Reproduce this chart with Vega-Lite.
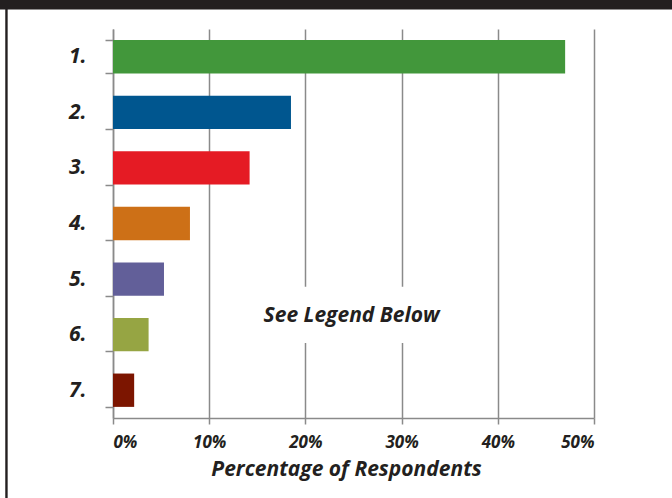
{
  "$schema": "https://vega.github.io/schema/vega-lite/v6.json",
  "width": 481,
  "height": 389,
  "autosize": {"type": "none"},
  "padding": {"left": 113, "top": 29, "right": 78, "bottom": 80},
  "background": "white",
  "config": {
    "view": {"stroke": null},
    "font": "Open Sans"
  },
  "data": {
    "values": [
      {"rank": "1.", "pct": 47.0},
      {"rank": "2.", "pct": 18.5},
      {"rank": "3.", "pct": 14.2},
      {"rank": "4.", "pct": 8.0},
      {"rank": "5.", "pct": 5.3},
      {"rank": "6.", "pct": 3.7},
      {"rank": "7.", "pct": 2.2}
    ]
  },
  "layer": [
    {
      "mark": {"type": "bar"},
      "encoding": {
        "y": {
          "field": "rank",
          "type": "nominal",
          "sort": null,
          "scale": {"paddingInner": 0.4, "paddingOuter": 0.2},
          "axis": {
            "title": null,
            "tickBand": "extent",
            "tickSize": 8,
            "tickWidth": 1.5,
            "tickColor": "#8a8a8a",
            "domainColor": "#8a8a8a",
            "domainWidth": 1.5,
            "labelPadding": 19,
            "labelFont": "Open Sans",
            "labelFontSize": 21,
            "labelFontWeight": "bold",
            "labelFontStyle": "italic",
            "labelColor": "#231f20"
          }
        },
        "x": {
          "field": "pct",
          "type": "quantitative",
          "scale": {"domain": [0, 50], "nice": false},
          "axis": {
            "values": [0, 10, 20, 30, 40, 50],
            "labelExpr": "datum.value + '%'",
            "title": "Percentage of Respondents",
            "titleFont": "Open Sans",
            "titleFontSize": 21,
            "titleFontWeight": "bold",
            "titleFontStyle": "italic",
            "titleColor": "#231f20",
            "titlePadding": 8,
            "titleX": 233,
            "grid": true,
            "gridColor": "#8a8a8a",
            "gridWidth": 1.5,
            "tickSize": 6,
            "tickWidth": 1.5,
            "tickColor": "#8a8a8a",
            "domainColor": "#8a8a8a",
            "domainWidth": 1.5,
            "labelPadding": 10,
            "labelFont": "Open Sans",
            "labelFontSize": 17,
            "labelFontWeight": "bold",
            "labelFontStyle": "italic",
            "labelColor": "#231f20"
          }
        },
        "color": {
          "field": "rank",
          "type": "nominal",
          "legend": null,
          "scale": {
            "domain": ["1.", "2.", "3.", "4.", "5.", "6.", "7."],
            "range": ["#42973b", "#00568f", "#e51b24", "#cd7017", "#625f99", "#96a543", "#7c1500"]
          }
        }
      }
    },
    {
      "data": {"values": [{}]},
      "layer": [
        {
          "mark": {"type": "rect", "color": "#231f20", "clip": false},
          "encoding": {
            "x": {"datum": -12, "type": "quantitative"},
            "x2": {"datum": 60},
            "y": {"datum": -0.6, "type": "quantitative", "scale": {"domain": [0, 7], "reverse": true, "nice": false, "zero": false}, "axis": null},
            "y2": {"datum": -0.35}
          }
        },
        {
          "mark": {"type": "rect", "color": "#231f20", "clip": false},
          "encoding": {
            "x": {"datum": -11.2, "type": "quantitative"},
            "x2": {"datum": -10.95},
            "y": {"datum": -0.36, "type": "quantitative"},
            "y2": {"datum": 8.5}
          }
        },
        {
          "mark": {"type": "rect", "color": "white"},
          "encoding": {
            "x": {"datum": 15, "type": "quantitative"},
            "x2": {"datum": 36},
            "y": {"datum": 4.64, "type": "quantitative"},
            "y2": {"datum": 5.65}
          }
        },
        {
          "mark": {
            "type": "text",
            "text": "See Legend Below",
            "font": "Open Sans",
            "fontSize": 21,
            "fontWeight": "bold",
            "fontStyle": "italic",
            "color": "#231f20",
            "align": "center",
            "baseline": "middle"
          },
          "encoding": {
            "x": {"datum": 24.8, "type": "quantitative"},
            "y": {"datum": 5.16, "type": "quantitative"}
          }
        }
      ]
    }
  ],
  "resolve": {"scale": {"y": "independent", "color": "independent"}}
}
